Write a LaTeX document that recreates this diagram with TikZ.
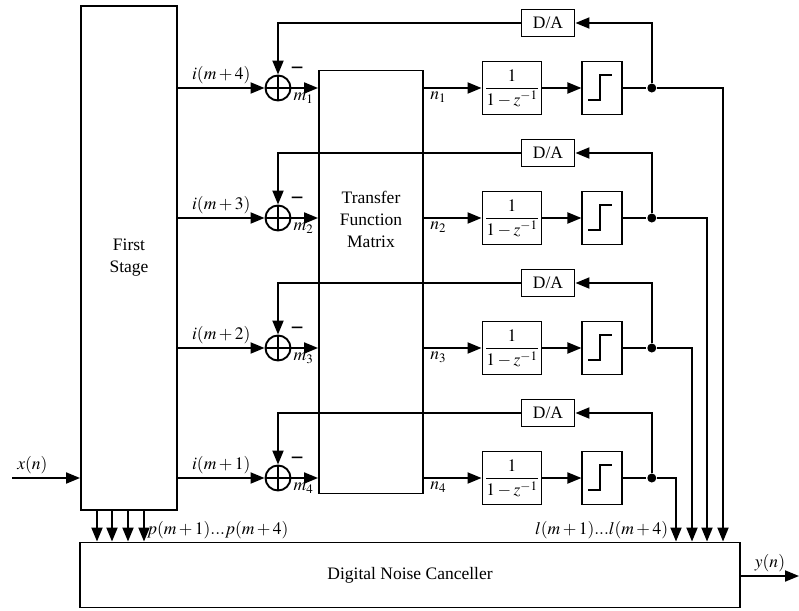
\documentclass[tikz,border=0pt]{standalone}
\usepackage{mathptmx}
\usepackage{amsmath}
\usepackage{fontspec}
\setmainfont{Liberation Serif}
\usetikzlibrary{
  arrows.meta,
  positioning
}

\begin{document}
\begin{tikzpicture}[
            x=1pt, y=-1pt,
            font=\fontsize{17.5}{22}\selectfont,
            line width=1.9pt,
            block/.style={rectangle, draw=black, align=center, inner sep=1pt},
            sumnode/.style={circle, draw=black, minimum size=25pt, inner sep=0pt,
                path picture={\draw (path picture bounding box.north) -- (path picture bounding box.south)
                    (path picture bounding box.west) -- (path picture bounding box.east);},
                label={[inner sep=0pt, label distance=3pt]45:{\bfseries\fontsize{23}{23}\selectfont −}}},
            quant/.style={rectangle, draw=black, minimum width=40pt, minimum height=53pt,
                path picture={\draw ([shift={(-14,12)}]path picture bounding box.center) -- ++(12,0) -- ++(0,-25) -- ++(12,0);}},
            junction/.style={circle, fill=black, minimum size=9pt, inner sep=0pt},
            integ/.style={block, minimum width=59pt, minimum height=53pt},
            dabox/.style={block, minimum width=53pt, minimum height=27pt},
            arrow/.style={-{Triangle[length=14pt, width=11pt]}}
        ]
        \useasboundingbox (0,0) rectangle (799,610);

        % Nodes
        \node (first) [block, minimum width=96pt, minimum height=504pt] at (129,258) {First\\Stage};
        \node (tfm) [block, minimum width=104pt, minimum height=423pt] at (371,282) {};
        \node (tfmtext) [align=center] at (371,219) {Transfer\\Function\\Matrix};
        \node (dnc) [block, minimum width=660pt, minimum height=65pt] at (410,575) {Digital Noise Canceller};

        \node (s1) [sumnode] at (278,88) {};
        \node (int1) [integ] at (512,88) {$\dfrac{1}{1-z^{-1}}$};
        \node (q1) [quant, right=39pt of int1] {};
        \node (j1) [junction, right=23pt of q1] {};
        \node (da1) [dabox] at (548,23) {D/A};

        \node (s2) [sumnode] at (278,218) {};
        \node (int2) [integ] at (512,218) {$\dfrac{1}{1-z^{-1}}$};
        \node (q2) [quant, right=39pt of int2] {};
        \node (j2) [junction, right=23pt of q2] {};
        \node (da2) [dabox] at (548,153) {D/A};

        \node (s3) [sumnode] at (278,348) {};
        \node (int3) [integ] at (512,348) {$\dfrac{1}{1-z^{-1}}$};
        \node (q3) [quant, right=39pt of int3] {};
        \node (j3) [junction, right=23pt of q3] {};
        \node (da3) [dabox] at (548,283) {D/A};

        \node (s4) [sumnode] at (278,478) {};
        \node (int4) [integ] at (512,478) {$\dfrac{1}{1-z^{-1}}$};
        \node (q4) [quant, right=39pt of int4] {};
        \node (j4) [junction, right=23pt of q4] {};
        \node (da4) [dabox] at (548,413) {D/A};

        \node (plab) [anchor=west, inner sep=0pt] at (146,530) {$p(m+1)...p(m+4)$};
        \node (llab) [anchor=east, inner sep=0pt] at (669,530) {$l(m+1)...l(m+4)$};

        \coordinate (xin) at (12,478);
        \coordinate (yout) at (799,576);

        % Links
        \draw [arrow] (xin) -- node[pos=0.3, above] {$x(n)$} (first.west |- xin);
        \draw [arrow] (dnc.east |- yout) -- node[midway, above] {$y(n)$} (yout);

        \draw [arrow] (first.east |- s1) -- node[above] {$i(m+4)$} (s1);
        \draw [arrow] (s1) -- node[pos=0.45, below=1pt] {$m_1$} (tfm.west |- s1);
        \draw [arrow] (tfm.east |- s1) -- node[pos=0.25, below] {$n_1$} (int1);
        \draw [arrow] (int1) -- (q1);
        \draw (q1) -- (j1);
        \draw [arrow] (j1) |- (da1);
        \draw [arrow] (da1) -| (s1);
        \draw [arrow] (j1) -| ([xshift=313pt]dnc.north);

        \draw [arrow] (first.east |- s2) -- node[above] {$i(m+3)$} (s2);
        \draw [arrow] (s2) -- node[pos=0.45, below=1pt] {$m_2$} (tfm.west |- s2);
        \draw [arrow] (tfm.east |- s2) -- node[pos=0.25, below] {$n_2$} (int2);
        \draw [arrow] (int2) -- (q2);
        \draw (q2) -- (j2);
        \draw [arrow] (j2) |- (da2);
        \draw [arrow] (da2) -| (s2);
        \draw [arrow] (j2) -| ([xshift=297pt]dnc.north);

        \draw [arrow] (first.east |- s3) -- node[above] {$i(m+2)$} (s3);
        \draw [arrow] (s3) -- node[pos=0.45, below=1pt] {$m_3$} (tfm.west |- s3);
        \draw [arrow] (tfm.east |- s3) -- node[pos=0.25, below] {$n_3$} (int3);
        \draw [arrow] (int3) -- (q3);
        \draw (q3) -- (j3);
        \draw [arrow] (j3) |- (da3);
        \draw [arrow] (da3) -| (s3);
        \draw [arrow] (j3) -| ([xshift=282pt]dnc.north);

        \draw [arrow] (first.east |- s4) -- node[above] {$i(m+1)$} (s4);
        \draw [arrow] (s4) -- node[pos=0.45, below=1pt] {$m_4$} (tfm.west |- s4);
        \draw [arrow] (tfm.east |- s4) -- node[pos=0.25, below] {$n_4$} (int4);
        \draw [arrow] (int4) -- (q4);
        \draw (q4) -- (j4);
        \draw [arrow] (j4) |- (da4);
        \draw [arrow] (da4) -| (s4);
        \draw [arrow] (j4) -| ([xshift=266pt]dnc.north);

        \draw [arrow] ([xshift=-32pt]first.south) -- ([xshift=-32pt]first.south |- dnc.north);
        \draw [arrow] ([xshift=-17pt]first.south) -- ([xshift=-17pt]first.south |- dnc.north);
        \draw [arrow] ([xshift=-1pt]first.south) -- ([xshift=-1pt]first.south |- dnc.north);
        \draw [arrow] ([xshift=15pt]first.south) -- ([xshift=15pt]first.south |- dnc.north);

    \end{tikzpicture}
\end{document}
